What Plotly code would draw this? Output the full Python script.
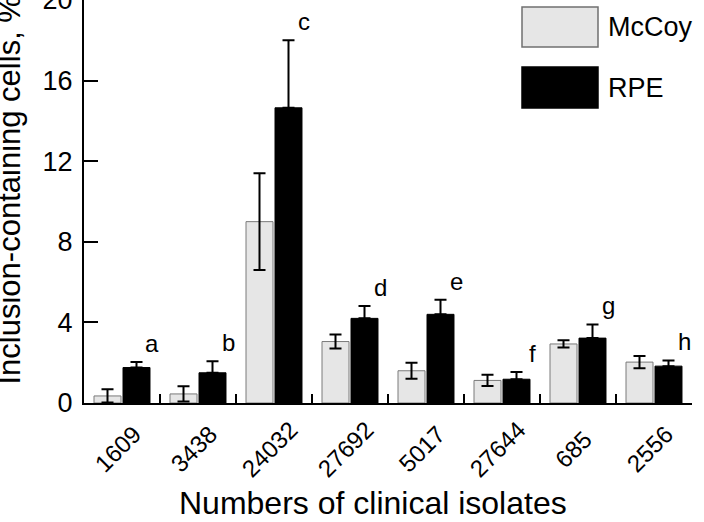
import plotly.graph_objects as go

isolates = ["1609", "3438", "24032", "27692", "5017", "27644", "685", "2556"]
mccoy = [0.35, 0.45, 9.0, 3.05, 1.6, 1.12, 2.93, 2.03]
mccoy_err = [0.33, 0.38, 2.4, 0.35, 0.4, 0.28, 0.18, 0.3]
rpe = [1.76, 1.5, 14.65, 4.2, 4.4, 1.18, 3.22, 1.83]
rpe_err = [0.27, 0.57, 3.35, 0.62, 0.72, 0.36, 0.68, 0.28]
letters = ["a", "b", "c", "d", "e", "f", "g", "h"]
series_names = ["McCoy", "RPE"]

FONT = "Liberation Sans, Arial, sans-serif"
LIGHT = "#e6e6e6"

fig = go.Figure()
fig.add_trace(go.Bar(
    x=isolates, y=mccoy, name=series_names[0],
    marker=dict(color=LIGHT, line=dict(color="#7a7a7a", width=1)),
    error_y=dict(type="data", array=mccoy_err, symmetric=True,
                 color="black", thickness=2, width=6),
    showlegend=False,
))
fig.add_trace(go.Bar(
    x=isolates, y=rpe, name=series_names[1],
    marker=dict(color="black", line=dict(color="black", width=1)),
    error_y=dict(type="data", array=rpe_err, arrayminus=[0] * len(rpe_err),
                 symmetric=False, color="black", thickness=2, width=6),
    showlegend=False,
))

annotations = []
# significance letters above RPE bars (x given as category index)
for i, (v, e, l) in enumerate(zip(rpe, rpe_err, letters)):
    annotations.append(dict(
        x=i, y=v + e, xref="x", yref="y", text=l, showarrow=False,
        xshift=30, yshift=3, xanchor="center", yanchor="bottom",
        font=dict(family=FONT, size=24, color="black"),
    ))
# rotated category labels
for i, iso in enumerate(isolates):
    annotations.append(dict(
        x=i, y=(403 - 449) / 403, xref="x", yref="paper", text=iso,
        showarrow=False, textangle=-45, xshift=-5,
        xanchor="center", yanchor="middle",
        font=dict(family=FONT, size=24, color="black"),
    ))
# axis titles
annotations.append(dict(
    x=0.476, y=(403 - 503) / 403, xref="paper", yref="paper",
    text="Numbers of clinical isolates", showarrow=False,
    xanchor="center", yanchor="middle",
    font=dict(family=FONT, size=32, color="black"),
))
annotations.append(dict(
    x=(9 - 84) / 608, y=(403 - 387) / 403, xref="paper", yref="paper",
    text="Inclusion-containing cells, %", showarrow=False, textangle=-90,
    xanchor="center", yanchor="bottom",
    font=dict(family=FONT, size=31, color="black"),
))

# legend drawn as boxes + labels
PW, PH = 608.0, 403.0
def px_x(p):
    return (p - 84) / PW
def px_y(p):
    return (403 - p) / PH

shapes = [
    dict(type="rect", xref="paper", yref="paper",
         x0=px_x(522), x1=px_x(598), y0=px_y(47), y1=px_y(7),
         fillcolor=LIGHT, line=dict(color="#707070", width=1.5)),
    dict(type="rect", xref="paper", yref="paper",
         x0=px_x(522), x1=px_x(598), y0=px_y(108), y1=px_y(67),
         fillcolor="black", line=dict(color="black", width=1.5)),
]
annotations.append(dict(
    x=px_x(606), y=px_y(27), xref="paper", yref="paper", text=series_names[0],
    showarrow=False, xanchor="left", yanchor="middle",
    font=dict(family=FONT, size=27, color="black"),
))
annotations.append(dict(
    x=px_x(606), y=px_y(88), xref="paper", yref="paper", text=series_names[1],
    showarrow=False, xanchor="left", yanchor="middle",
    font=dict(family=FONT, size=27, color="black"),
))

fig.update_layout(
    width=704, height=522,
    margin=dict(l=84, r=12, t=0, b=119, autoexpand=False),
    paper_bgcolor="white", plot_bgcolor="white",
    barmode="group", bargap=0.237, bargroupgap=0.069,
    font=dict(family=FONT, color="black"),
    annotations=annotations, shapes=shapes,
    xaxis=dict(
        type="category", range=[-0.5, len(isolates) - 0.5],
        showline=True, linecolor="black", linewidth=2,
        ticks="inside", tickson="boundaries", ticklen=9, tickwidth=2,
        tickcolor="black", showticklabels=False, showgrid=False,
        zeroline=False, mirror=False, automargin=False,
    ),
    yaxis=dict(
        range=[0, 20], dtick=4, tick0=0, showline=True, linecolor="black",
        linewidth=2, ticks="inside", ticklen=14, tickwidth=2,
        tickcolor="black", showgrid=False, zeroline=False,
        ticklabeloverflow="allow", ticklabelstandoff=4, automargin=False,
        tickfont=dict(family=FONT, size=27, color="black"),
    ),
)

fig.write_html("out.html")
